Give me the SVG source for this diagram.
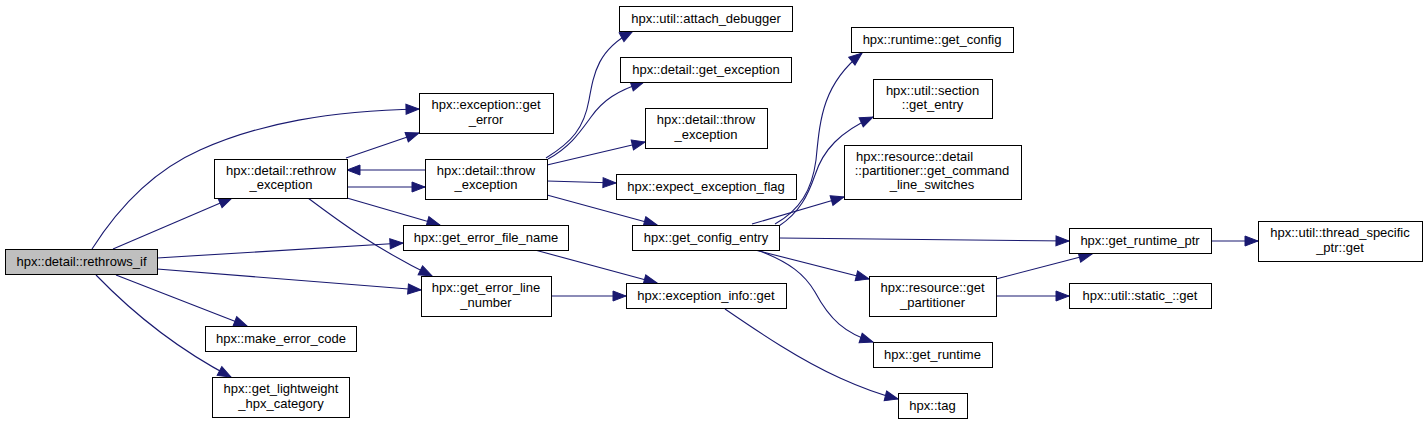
<svg xmlns="http://www.w3.org/2000/svg" width="1427" height="424" viewBox="0 0 1427 424">
<style>
.n rect{fill:#fff;stroke:#000;stroke-width:1}
.n.root rect{fill:#bfbfbf}
.n text{font-family:"Liberation Sans",Arial,Helvetica,sans-serif;font-size:13px;fill:#000;text-anchor:middle}
.e path{fill:none;stroke:#191970;stroke-width:1.1;marker-end:url(#arr)}
</style>
<defs>
<marker id="arr" markerUnits="userSpaceOnUse" markerWidth="14" markerHeight="11" refX="13" refY="5" orient="auto" overflow="visible">
<path d="M0,0 L13,5 L0,10 z" fill="#191970" stroke="#191970" stroke-width="1"/>
</marker>
</defs>
<rect x="0" y="0" width="1427" height="424" fill="#fff"/>
<g id="edges" class="e">
<path d="M92,249 C120,205 155,170 200,150 C260,123 330,111 419,109"/>
<path d="M113,249 L232,198"/>
<path d="M157,258 L403,243"/>
<path d="M157,269 L421,290"/>
<path d="M116,275 L247,326"/>
<path d="M96,275 C125,305 170,345 231,377"/>
<path d="M346,158 L419,133"/>
<path d="M347,187 L425,187"/>
<path d="M425,170 L347,170"/>
<path d="M347,198 L440,225"/>
<path d="M308,198 C340,222 375,248 432,276"/>
<path d="M546,158 C572,142 584,128 589,100 C594,72 598,50 633,31"/>
<path d="M548,159 C570,147 580,132 591,117 C603,100 617,91 644,82"/>
<path d="M547,165 L645,142"/>
<path d="M547,181 L616,183"/>
<path d="M547,195 L657,225"/>
<path d="M535,250 L657,283"/>
<path d="M551,296 L626,296"/>
<path d="M725,309 C760,333 800,360 840,378 C862,388 878,394 898,399"/>
<path d="M775,224 C800,210 812,190 816,160 C820,120 822,85 862,53"/>
<path d="M779,226 C800,212 808,195 815,175 C823,150 840,132 873,117"/>
<path d="M752,224 L844,197"/>
<path d="M779,238 L1069,241"/>
<path d="M755,250 L869,279"/>
<path d="M757,250 C790,262 805,275 815,292 C830,320 845,333 873,342"/>
<path d="M996,279 L1092,254"/>
<path d="M996,296 L1069,296"/>
<path d="M1211,241 L1258,241"/>
</g>
<g id="rethrows_if" class="n root"><rect x="5.5" y="249.5" width="152" height="25"/><text x="81.5" y="266">hpx::detail::rethrows_if</text></g>
<g id="rethrow_exception" class="n"><rect x="214.5" y="159.5" width="133" height="39"/><text x="281" y="175">hpx::detail::rethrow</text><text x="281" y="189">_exception</text></g>
<g id="make_error_code" class="n"><rect x="205.5" y="326.5" width="151" height="25"/><text x="281" y="343">hpx::make_error_code</text></g>
<g id="get_lightweight_hpx_category" class="n"><rect x="212.5" y="377.5" width="137" height="40"/><text x="281" y="393">hpx::get_lightweight</text><text x="281" y="408">_hpx_category</text></g>
<g id="exception_get_error" class="n"><rect x="419.5" y="93.5" width="134" height="40"/><text x="486" y="109">hpx::exception::get</text><text x="486" y="124">_error</text></g>
<g id="throw_exception_1" class="n"><rect x="425.5" y="159.5" width="122" height="40"/><text x="486" y="175">hpx::detail::throw</text><text x="486" y="189">_exception</text></g>
<g id="get_error_file_name" class="n"><rect x="403.5" y="225.5" width="165" height="25"/><text x="486" y="242">hpx::get_error_file_name</text></g>
<g id="get_error_line_number" class="n"><rect x="421.5" y="276.5" width="130" height="40"/><text x="486" y="292">hpx::get_error_line</text><text x="486" y="307">_number</text></g>
<g id="attach_debugger" class="n"><rect x="619.5" y="6.5" width="173" height="25"/><text x="706" y="23">hpx::util::attach_debugger</text></g>
<g id="get_exception" class="n"><rect x="620.5" y="57.5" width="171" height="25"/><text x="706" y="74">hpx::detail::get_exception</text></g>
<g id="throw_exception_2" class="n"><rect x="645.5" y="108.5" width="122" height="40"/><text x="706" y="124">hpx::detail::throw</text><text x="706" y="139">_exception</text></g>
<g id="expect_exception_flag" class="n"><rect x="616.5" y="174.5" width="180" height="25"/><text x="706" y="191">hpx::expect_exception_flag</text></g>
<g id="get_config_entry" class="n"><rect x="632.5" y="225.5" width="147" height="25"/><text x="706" y="242">hpx::get_config_entry</text></g>
<g id="exception_info_get" class="n"><rect x="626.5" y="283.5" width="160" height="25"/><text x="706" y="300">hpx::exception_info::get</text></g>
<g id="runtime_get_config" class="n"><rect x="851.5" y="27.5" width="162" height="25"/><text x="932" y="44">hpx::runtime::get_config</text></g>
<g id="section_get_entry" class="n"><rect x="873.5" y="79.5" width="119" height="39"/><text x="932.5" y="95">hpx::util::section</text><text x="932.5" y="109">::get_entry</text></g>
<g id="get_command_line_switches" class="n"><rect x="844.5" y="145.5" width="177" height="54"/><text x="914.5" y="161">hpx::resource::detail</text><text x="932" y="175">::partitioner::get_command</text><text x="932" y="189">_line_switches</text></g>
<g id="get_partitioner" class="n"><rect x="869.5" y="276.5" width="127" height="40"/><text x="932.5" y="292">hpx::resource::get</text><text x="932.5" y="307">_partitioner</text></g>
<g id="get_runtime" class="n"><rect x="873.5" y="342.5" width="119" height="25"/><text x="932.5" y="359">hpx::get_runtime</text></g>
<g id="tag" class="n"><rect x="898.5" y="393.5" width="69" height="25"/><text x="932.5" y="410">hpx::tag</text></g>
<g id="get_runtime_ptr" class="n"><rect x="1069.5" y="228.5" width="142" height="25"/><text x="1140" y="245">hpx::get_runtime_ptr</text></g>
<g id="thread_specific_ptr_get" class="n"><rect x="1258.5" y="221.5" width="164" height="40"/><text x="1340" y="237">hpx::util::thread_specific</text><text x="1340" y="252">_ptr::get</text></g>
<g id="static_get" class="n"><rect x="1069.5" y="283.5" width="142" height="25"/><text x="1140" y="300">hpx::util::static_::get</text></g>
</svg>
